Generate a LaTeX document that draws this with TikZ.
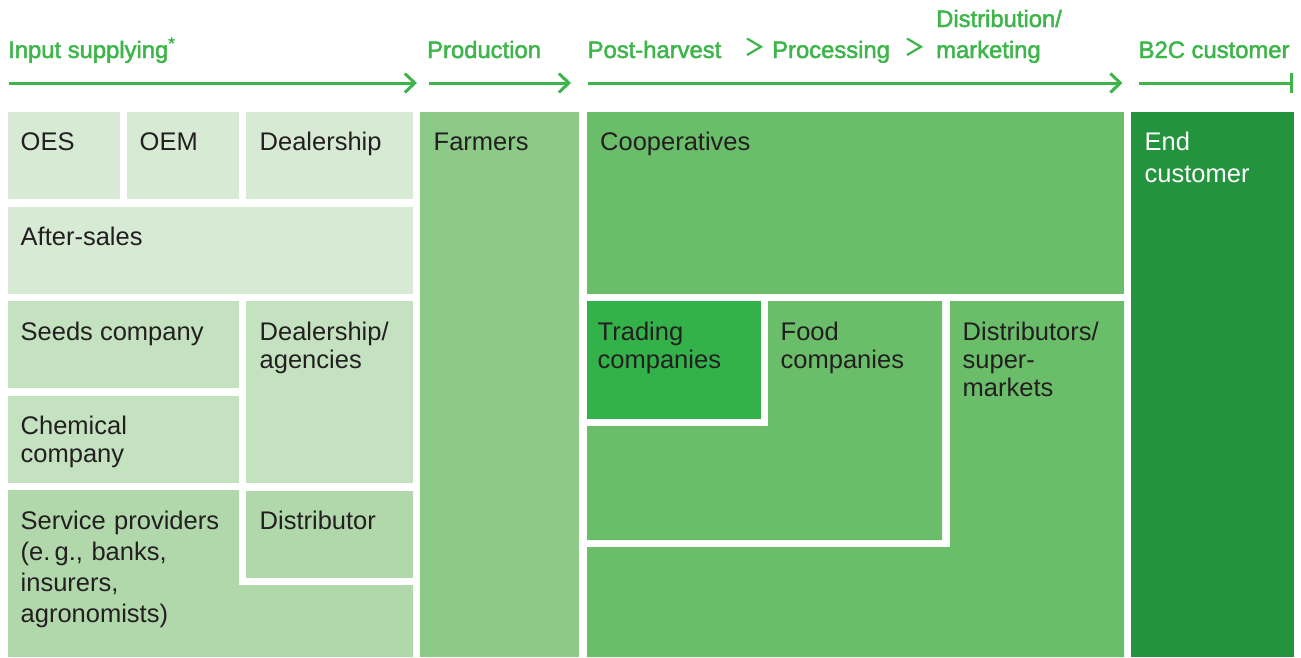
\documentclass[tikz,border=0pt]{standalone}
\usepackage{fontspec}
\setmainfont{Liberation Sans}
\newfontfamily\headfont[FakeBold=2]{Liberation Sans}
\usetikzlibrary{arrows.meta}
\definecolor{headgreen}{HTML}{3DB54A}
\definecolor{paleA}{HTML}{D7EAD4}
\definecolor{paleB}{HTML}{C4E2C0}
\definecolor{paleC}{HTML}{B1D8AB}
\definecolor{farmgreen}{HTML}{8DCA88}
\definecolor{midgreen}{HTML}{6ABE6A}
\definecolor{tradegreen}{HTML}{33B24A}
\definecolor{endgreen}{HTML}{24933D}
\definecolor{inkgrey}{HTML}{231F20}
\tikzset{
  lbl/.style={anchor=base west, inner sep=0pt, text=inkgrey, align=left,
    font=\fontsize{25.5}{28}\selectfont},
  head/.style={anchor=base west, inner sep=0pt, text=headgreen, align=left,
    font=\headfont\fontsize{23.8}{31}\selectfont},
  flow/.style={draw=headgreen, line width=3pt, -{Straight Barb[length=10pt,width=19pt]}},
  chev/.style={draw=headgreen, line width=2.2pt, miter limit=10}
}

\begin{document}
\begin{tikzpicture}[x=1pt,y=-1pt]
			%%%%% START %%%%%
			\useasboundingbox (0,0) rectangle (1301,657);

			\node[head] (hInput) at (8,58) {Input supplying\textsuperscript{*}};
			\node[head] (hProd) at (427,58) {Production};
			\node[head] (hPost) at (587.5,58) {Post-harvest};
			\node[head] (hProc) at (772,58) {Processing};
			\node[head, text width=160pt] (hDist) at (936,27) {Distribution/\\marketing};
			\node[head] (hB2C) at (1138.5,58) {B2C customer};

			\draw[chev] (747,38.5) -- (761,46.8) -- (747,55);
			\draw[chev] (907,38.5) -- (921,46.8) -- (907,55);

			\coordinate (a1) at (9,83);      \coordinate (b1) at (417,83);
			\coordinate (a2) at (428.5,83);  \coordinate (b2) at (571,83);
			\coordinate (a3) at (587.5,83);  \coordinate (b3) at (1122.5,83);
			\coordinate (a4) at (1139,83);   \coordinate (b4) at (1293,83);
			\draw[flow] (a1) -- (b1);
			\draw[flow] (a2) -- (b2);
			\draw[flow] (a3) -- (b3);
			\draw[draw=headgreen, line width=3pt, -{Bar[width=20pt]}] (a4) -- (b4);

			% input supplying
			\fill[paleA] (8,112) rectangle (120,199);
			\fill[paleA] (127,112) rectangle (239,199);
			\fill[paleA] (246,112) rectangle (413,199);
			\fill[paleA] (8,207) rectangle (413,294);
			\fill[paleB] (8,301) rectangle (239,388);
			\fill[paleB] (8,396) rectangle (239,483);
			\fill[paleB] (246,301) rectangle (413,483);
			\fill[paleC] (8,490) -- (239,490) -- (239,585) -- (413,585) -- (413,657) -- (8,657) -- cycle;
			\fill[paleC] (246,491) rectangle (413,578);

			% production
			\fill[farmgreen] (420,112) rectangle (579,657);

			% post-harvest, processing, distribution
			\fill[midgreen] (587,112) rectangle (1124,294);
			\fill[tradegreen] (587,301) rectangle (761,419);
			\fill[midgreen] (768,301) -- (942,301) -- (942,540) -- (587,540) -- (587,426) -- (768,426) -- cycle;
			\fill[midgreen] (950,301) -- (1124,301) -- (1124,657) -- (587,657) -- (587,547) -- (950,547) -- cycle;

			% customer
			\fill[endgreen] (1131,112) rectangle (1294,657);

			\node[lbl] (oes) at (20.5,150) {OES};
			\node[lbl] (oem) at (139.5,150) {OEM};
			\node[lbl] (dealer) at (259.5,150) {Dealership};
			\node[lbl] (after) at (20.5,245.5) {After-sales};
			\node[lbl] (seeds) at (20.5,340) {Seeds company};
			\node[lbl, text width=150pt] (agency) at (259.5,340) {Dealership/\\agencies};
			\node[lbl, text width=200pt] (chem) at (20.5,434) {Chemical\\company};
			\node[lbl, text width=210pt, font=\fontsize{25.5}{31}\selectfont] (service) at (20.5,529) {Service providers\\(e.\,g., banks,\\insurers,\\agronomists)};
			\node[lbl] (distr) at (259.5,529) {Distributor};
			\node[lbl] (farm) at (433.5,150) {Farmers};
			\node[lbl] (coop) at (600,150) {Cooperatives};
			\node[lbl, text width=160pt] (trade) at (597.5,340) {Trading\\companies};
			\node[lbl, text width=160pt] (food) at (780.5,340) {Food\\companies};
			\node[lbl, text width=160pt] (superm) at (962.5,340) {Distributors/\\super-\\markets};
			\node[lbl, text=white, text width=150pt, font=\fontsize{25.5}{32}\selectfont] (endc) at (1144.5,150) {End\\customer};

			%%%%% END %%%%%
\end{tikzpicture}
\end{document}
